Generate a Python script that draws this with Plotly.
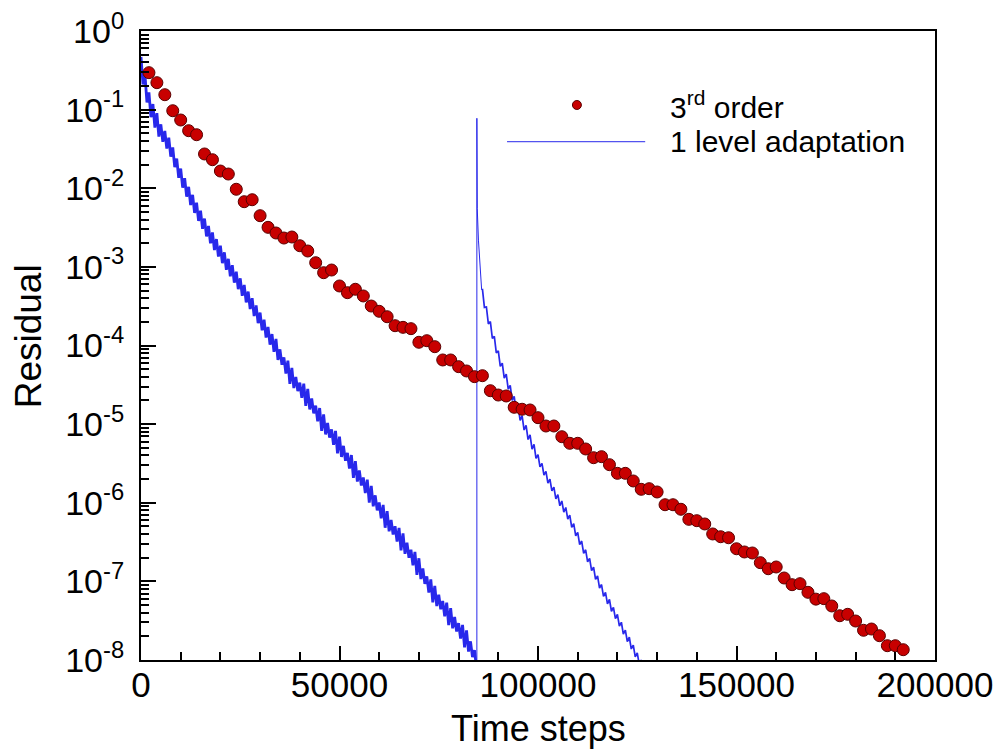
import plotly.graph_objects as go

# ---------------- data ----------------
# 3rd order: one sample every 2000 time steps, residual given as log10 value
third_order_steps = list(range(2000, 194000, 2000))
third_order_log10 = [
    -0.530, -0.657, -0.810, -1.014, -1.132, -1.268, -1.319, -1.564, -1.637, -1.781,
    -1.819, -2.013, -2.171, -2.146, -2.349, -2.497, -2.569, -2.633, -2.620, -2.731,
    -2.798, -2.947, -3.074, -3.040, -3.243, -3.328, -3.285, -3.370, -3.498, -3.565,
    -3.634, -3.748, -3.769, -3.786, -3.959, -3.939, -4.015, -4.184, -4.184, -4.269,
    -4.324, -4.396, -4.384, -4.575, -4.630, -4.642, -4.786, -4.811, -4.820, -4.918,
    -5.024, -5.024, -5.160, -5.244, -5.244, -5.316, -5.427, -5.414, -5.516, -5.626,
    -5.626, -5.723, -5.829, -5.821, -5.863, -6.025, -6.025, -6.083, -6.211, -6.228,
    -6.270, -6.397, -6.432, -6.445, -6.585, -6.626, -6.639, -6.762, -6.839, -6.817,
    -6.957, -7.042, -7.029, -7.139, -7.226, -7.220, -7.313, -7.437, -7.419, -7.504,
    -7.622, -7.606, -7.691, -7.818, -7.818, -7.869,
]

# 1 level adaptation (noisy residual history, read every 500 steps), log10 values
adapt_steps_run1 = list(range(0, 85000, 500))
adapt_log10_run1 = [
    -0.33, -0.68, -0.556, -0.909, -0.782, -1.096, -0.929, -1.228, -1.046, -1.342,
    -1.187, -1.41, -1.272, -1.495, -1.357, -1.599, -1.481, -1.732, -1.622, -1.867,
    -1.751, -1.992, -1.872, -2.107, -1.982, -2.213, -2.083, -2.314, -2.184, -2.415,
    -2.285, -2.516, -2.386, -2.613, -2.479, -2.701, -2.563, -2.785, -2.647, -2.869,
    -2.731, -2.953, -2.815, -3.037, -2.898, -3.119, -2.979, -3.201, -3.062, -3.284,
    -3.146, -3.368, -3.230, -3.452, -3.314, -3.537, -3.399, -3.625, -3.490, -3.716,
    -3.581, -3.807, -3.672, -3.898, -3.764, -3.990, -3.855, -4.081,
    -3.917, -4.183, -4.049, -4.245, -4.151, -4.357, -4.193, -4.489, -4.285, -4.542,
    -4.399, -4.581, -4.472, -4.664, -4.485, -4.769, -4.552, -4.813, -4.673, -4.864,
    -4.764, -4.965, -4.795, -5.086, -4.876, -5.131, -4.986, -5.172, -5.067, -5.262,
    -5.087, -5.373, -5.158, -5.417, -5.276, -5.466, -5.365, -5.564, -5.393, -5.683,
    -5.472, -5.731, -5.590, -5.780, -5.679, -5.878, -5.707, -5.997, -5.786, -6.046,
    -5.906, -6.097, -5.997, -6.198, -6.028, -6.318, -6.107, -6.363, -6.218, -6.404,
    -6.299, -6.495, -6.320, -6.606, -6.391, -6.650, -6.509, -6.699, -6.598, -6.797,
    -6.626, -6.916, -6.706, -6.971, -6.836, -7.031, -6.936, -7.141, -6.975, -7.267,
    -7.058, -7.314, -7.169, -7.355, -7.250, -7.445, -7.270, -7.556, -7.341, -7.597,
    -7.452, -7.637, -7.532, -7.728, -7.553, -7.838, -7.623, -7.893, -7.763, -7.964,
    -7.874, -8.10,
]
# restart after adaptation: jump up, then second convergence
adapt_steps_jump = [84500, 84600, 84600, 84700, 85000, 85800, 86000]
adapt_log10_jump = [-8.10, -8.10, -1.11, -2.26, -2.66, -3.29, -3.28]
adapt_steps_run2 = list(range(86000, 127000, 500))
adapt_log10_run2 = [
    -3.28, -3.515, -3.51, -3.724, -3.697, -3.91, -3.883, -4.095, -4.067, -4.266,
    -4.224, -4.415, -4.365, -4.556, -4.506, -4.697, -4.647, -4.83, -4.772, -4.953,
    -4.894, -5.075, -5.015, -5.196, -5.136, -5.317, -5.257, -5.437, -5.387, -5.543,
    -5.499, -5.65, -5.60, -5.75, -5.701, -5.85, -5.802, -5.95, -5.897, -6.038,
    -5.978, -6.119, -6.06, -6.209, -6.158, -6.312, -6.265, -6.421, -6.376, -6.532,
    -6.487, -6.643, -6.598, -6.753, -6.708, -6.864, -6.819, -6.975, -6.93, -7.085,
    -7.04, -7.19, -7.14, -7.285, -7.23, -7.38, -7.33, -7.475, -7.42, -7.57,
    -7.52, -7.67, -7.62, -7.765, -7.71, -7.86, -7.81, -7.96, -7.91, -8.055,
    -8.0, -8.15,
]

y_tick_exponents = [0, -1, -2, -3, -4, -5, -6, -7, -8]
x_tick_values = [0, 50000, 100000, 150000, 200000]
legend_names = ["3<sup>rd</sup> order", "1 level adaptation"]
x_title = "Time steps"
y_title = "Residual"

# ---------------- figure ----------------
FONT = "Liberation Sans, Arial, sans-serif"
BLUE = "rgb(40,40,235)"
RED = "rgb(200,0,0)"
DARKRED = "rgb(90,0,0)"


def blue_line(steps, logs, width):
    return go.Scatter(x=steps, y=[10 ** v for v in logs], mode="lines",
                      line=dict(color=BLUE, width=width),
                      showlegend=False, hoverinfo="skip")


fig = go.Figure()
fig.add_trace(blue_line(adapt_steps_run1, adapt_log10_run1, 2.8))
fig.add_trace(blue_line(adapt_steps_jump, adapt_log10_jump, 1.0))
fig.add_trace(blue_line(adapt_steps_run2, adapt_log10_run2, 1.7))
fig.add_trace(go.Scatter(
    x=third_order_steps, y=[10 ** v for v in third_order_log10],
    mode="markers",
    marker=dict(size=12, color=RED, line=dict(color=DARKRED, width=1)),
    showlegend=False,
))

# page body adds an 8px offset, so the figure is 8px smaller than the window
fig.update_layout(
    width=995, height=748,
    margin=dict(l=133, r=68, t=23, b=96, autoexpand=False),
    paper_bgcolor="white", plot_bgcolor="white",
    font=dict(family=FONT, color="black"),
    showlegend=False,
)

fig.update_xaxes(
    range=[0, 200000], automargin=False,
    tickmode="array", tickvals=x_tick_values,
    ticktext=[str(v) for v in x_tick_values],
    ticks="inside", ticklen=14, tickwidth=2, tickcolor="black",
    minor=dict(ticks="inside", ticklen=8, tickwidth=1.5, tickcolor="black",
               dtick=10000, tick0=0, showgrid=False),
    showline=True, linewidth=2, linecolor="black", mirror=True,
    showgrid=False, zeroline=False,
    tickfont=dict(size=35, family=FONT),
    ticklabelstandoff=-7, ticklabeloverflow="allow",
)

fig.update_yaxes(
    type="log", range=[-8, 0], automargin=False,
    tickmode="array",
    tickvals=[10.0 ** e for e in y_tick_exponents],
    ticktext=["10<sup>%d</sup>" % e for e in y_tick_exponents],
    ticks="inside", ticklen=15, tickwidth=2, tickcolor="black",
    minor=dict(ticks="inside", ticklen=8, tickwidth=1.5, tickcolor="black",
               dtick="D1", showgrid=False),
    showline=True, linewidth=2, linecolor="black", mirror=True,
    showgrid=False, zeroline=False,
    tickfont=dict(size=34, family=FONT),
    ticklabelstandoff=8, ticklabeloverflow="allow",
)

# axis titles
fig.add_annotation(xref="paper", yref="paper", x=0.5, y=-0.109,
                   text=x_title, showarrow=False,
                   xanchor="center", yanchor="middle",
                   font=dict(size=36, family=FONT, color="black"))
fig.add_annotation(xref="paper", yref="paper", x=-0.142, y=0.515,
                   text=y_title, showarrow=False, textangle=-90,
                   xanchor="center", yanchor="middle",
                   font=dict(size=37, family=FONT, color="black"))

# legend drawn in paper coordinates
fig.add_shape(type="line", xref="paper", yref="paper",
              x0=0.461, x1=0.635, y0=0.824, y1=0.824,
              line=dict(color=BLUE, width=1))
fig.add_shape(type="circle", xref="paper", yref="paper",
              xsizemode="pixel", ysizemode="pixel",
              xanchor=0.549, yanchor=0.8824,
              x0=-4.5, x1=4.5, y0=-4.5, y1=4.5,
              fillcolor=RED, line=dict(color=DARKRED, width=1))
fig.add_annotation(xref="paper", yref="paper", x=0.664, y=0.8824,
                   text=legend_names[0], showarrow=False,
                   xanchor="left", yanchor="middle",
                   font=dict(size=30, family=FONT, color="black"))
fig.add_annotation(xref="paper", yref="paper", x=0.664, y=0.824,
                   text=legend_names[1], showarrow=False,
                   xanchor="left", yanchor="middle",
                   font=dict(size=30, family=FONT, color="black"))

fig.write_html("out.html")
